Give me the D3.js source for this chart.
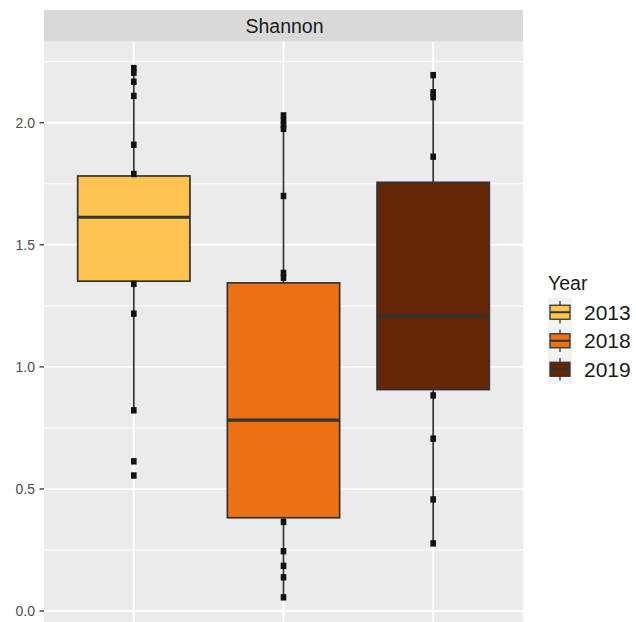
<!DOCTYPE html>
<html><head><meta charset="utf-8">
<script src="https://cdn.jsdelivr.net/npm/d3@7"></script>
<style>body{margin:0;background:#fff}svg{display:block;font-family:"Liberation Sans",Arial,sans-serif}</style>
</head><body><svg id="c" width="636" height="622"></svg>
<script>
const years = ["2013", "2018", "2019"];
const colors = ["#FEC44F", "#EC7014", "#662506"];
const q1 = [1.351, 0.382, 0.907];
const median = [1.613, 0.782, 1.207];
const q3 = [1.782, 1.344, 1.756];
const whiskerLow = [0.822, 0.056, 0.277];
const whiskerHigh = [2.224, 2.03, 2.195];
const points2013 = [2.224, 2.205, 2.168, 2.11, 1.91, 1.79, 1.34, 1.218, 0.822, 0.613, 0.555];
const points2018 = [2.03, 2.01, 1.99, 1.975, 1.70, 1.385, 1.365, 0.365, 0.245, 0.185, 0.138, 0.056];
const points2019 = [2.195, 2.125, 2.105, 1.861, 0.883, 0.706, 0.457, 0.277];
const yTicks = [0, 0.5, 1.0, 1.5, 2.0];
const yMinor = [0.25, 0.75, 1.25, 1.75, 2.25];
const stripLabel = "Shannon";
const legendTitle = "Year";

const pointsByYear = [points2013, points2018, points2019];
const svg = d3.select("#c");
const L = 44, R = 523, T = 41.7, B = 623.7, stripTop = 10;

// discrete scale with 0.6 expansion each side
const xc = d3.scalePoint().domain(years).range([L + (R - L) * 0.6 / 3.2, R - (R - L) * 0.6 / 3.2]);
const step = (R - L) / 3.2;
const y = d3.scaleLinear().domain([-0.052, 2.332]).range([B, T]);

// strip
svg.append("rect").attr("x", L).attr("y", stripTop).attr("width", R - L).attr("height", T - stripTop).attr("fill", "#D9D9D9");
svg.append("text").attr("x", (L + R) / 2 + 1).attr("y", (stripTop + T) / 2).attr("text-anchor", "middle")
  .attr("dominant-baseline", "central").attr("font-size", 19.5).attr("fill", "#1A1A1A").text(stripLabel);

// panel
const panel = svg.append("g");
panel.append("rect").attr("x", L).attr("y", T).attr("width", R - L).attr("height", B - T).attr("fill", "#EBEBEB");
panel.selectAll(".minor").data(yMinor).join("line").attr("x1", L).attr("x2", R)
  .attr("y1", d => y(d)).attr("y2", d => y(d)).attr("stroke", "#fff").attr("stroke-width", 1);
panel.selectAll(".major").data(yTicks).join("line").attr("x1", L).attr("x2", R)
  .attr("y1", d => y(d)).attr("y2", d => y(d)).attr("stroke", "#fff").attr("stroke-width", 1.9);
panel.selectAll(".vmajor").data(years).join("line").attr("x1", d => xc(d)).attr("x2", d => xc(d))
  .attr("y1", T).attr("y2", B).attr("stroke", "#fff").attr("stroke-width", 1.9);

// boxplots
const bw = step * 0.75;
years.forEach((yr, i) => {
  const cx = xc(yr);
  const g = svg.append("g");
  g.append("line").attr("x1", cx).attr("x2", cx).attr("y1", y(whiskerHigh[i])).attr("y2", y(q3[i]))
    .attr("stroke", "#333").attr("stroke-width", 1.7);
  g.append("line").attr("x1", cx).attr("x2", cx).attr("y1", y(q1[i])).attr("y2", y(whiskerLow[i]))
    .attr("stroke", "#333").attr("stroke-width", 1.7);
  g.append("rect").attr("x", cx - bw / 2).attr("y", y(q3[i])).attr("width", bw)
    .attr("height", y(q1[i]) - y(q3[i])).attr("fill", colors[i]).attr("stroke", "#333").attr("stroke-width", 1.7);
  g.append("line").attr("x1", cx - bw / 2).attr("x2", cx + bw / 2).attr("y1", y(median[i])).attr("y2", y(median[i]))
    .attr("stroke", "#333").attr("stroke-width", 3.2);
  g.selectAll("rect.pt").data(pointsByYear[i]).join("rect").attr("class", "pt")
    .attr("x", cx - 2.8).attr("y", d => y(d) - 3.2).attr("width", 5.6).attr("height", 6.4).attr("fill", "#111");
});

// y axis
const ax = svg.append("g");
ax.selectAll("line").data(yTicks).join("line").attr("x1", L - 4.5).attr("x2", L)
  .attr("y1", d => y(d)).attr("y2", d => y(d)).attr("stroke", "#333").attr("stroke-width", 1.3);
ax.selectAll("text").data(yTicks).join("text").attr("x", L - 9).attr("y", d => y(d))
  .attr("text-anchor", "end").attr("dominant-baseline", "central").attr("font-size", 14).attr("fill", "#4D4D4D")
  .text(d => d3.format(".1f")(d));

// legend
const lg = svg.append("g");
lg.append("text").attr("x", 548).attr("y", 290).attr("font-size", 19.5).attr("fill", "#1A1A1A").text(legendTitle);
const kx = 548, kw = 24, kh = 28.5, ky0 = 298;
years.forEach((yr, i) => {
  const top = ky0 + i * kh, cy = top + kh / 2, cx = kx + kw / 2;
  lg.append("rect").attr("x", kx).attr("y", top).attr("width", kw).attr("height", kh).attr("fill", "#F2F2F2");
  lg.append("line").attr("x1", cx).attr("x2", cx).attr("y1", top + 3).attr("y2", top + kh - 3).attr("stroke", "#333").attr("stroke-width", 1.3);
  lg.append("rect").attr("x", kx + 2).attr("y", cy - 7).attr("width", kw - 4).attr("height", 14)
    .attr("fill", colors[i]).attr("stroke", "#333").attr("stroke-width", 1.3);
  lg.append("line").attr("x1", kx + 2).attr("x2", kx + kw - 2).attr("y1", cy).attr("y2", cy).attr("stroke", "#333").attr("stroke-width", 2);
  lg.append("text").attr("x", 584).attr("y", cy).attr("dominant-baseline", "central").attr("font-size", 21)
    .attr("fill", "#1A1A1A").text(yr);
});
</script></body></html>
